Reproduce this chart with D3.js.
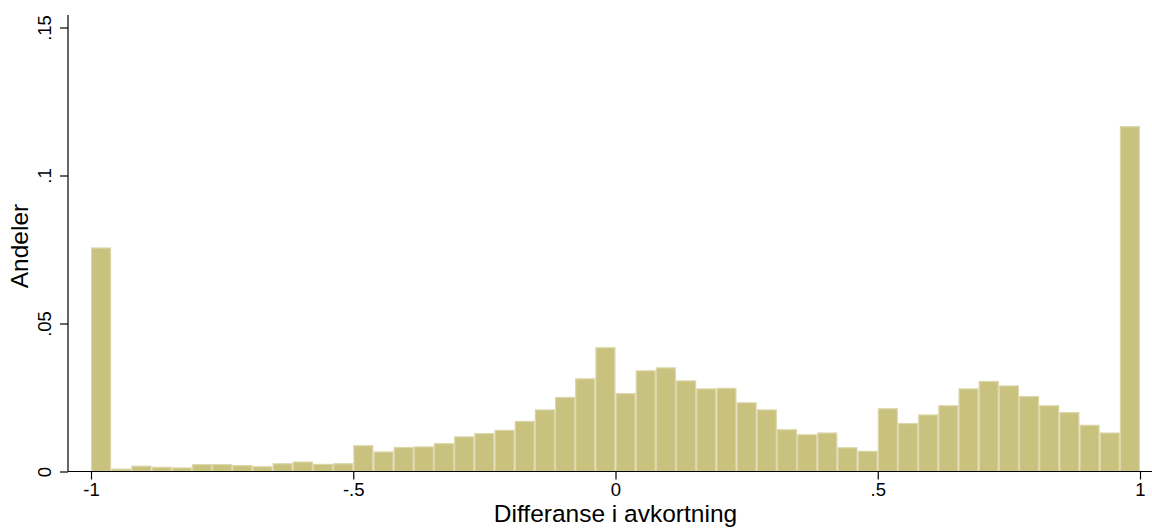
<!DOCTYPE html>
<html>
<head>
<meta charset="utf-8">
<script src="https://cdn.jsdelivr.net/npm/d3@7"></script>
<style>
  html, body { margin: 0; padding: 0; background: #fff; }
  svg { display: block; font-family: "Liberation Sans", Arial, Helvetica, sans-serif; }
</style>
</head>
<body>
<svg id="chart" width="1152" height="528"></svg>
<script>
// Histogram of differences, 52 equal-width bins on [-1, 1]
const binRange = [-1, 1];
const binShares = [
  0.0757, 0.0010, 0.0020, 0.0016, 0.0014, 0.0025, 0.0025, 0.0022, 0.0018, 0.0028,
  0.0034, 0.0026, 0.0028, 0.0089, 0.0068, 0.0083, 0.0085, 0.0096, 0.0119, 0.0130,
  0.0141, 0.0171, 0.0210, 0.0252, 0.0315, 0.0420, 0.0265, 0.0342, 0.0352, 0.0308,
  0.0281, 0.0283, 0.0234, 0.0210, 0.0143, 0.0126, 0.0132, 0.0082, 0.0070, 0.0214,
  0.0164, 0.0193, 0.0224, 0.0281, 0.0306, 0.0291, 0.0255, 0.0224, 0.0201, 0.0158,
  0.0132, 0.1167
];
const xTicks = [-1, -0.5, 0, 0.5, 1];
const xTickLabels = ["-1", "-.5", "0", ".5", "1"];
const yTicks = [0, 0.05, 0.1, 0.15];
const yTickLabels = ["0", ".05", ".1", ".15"];
const xTitle = "Differanse i avkortning";
const yTitle = "Andeler";

const svg = d3.select("#chart");

const x = d3.scaleLinear().domain(binRange).range([91, 1140]);
const y = d3.scaleLinear().domain([0, 0.15]).range([471.5, 27.5]);

const binWidth = (binRange[1] - binRange[0]) / binShares.length;
const bins = binShares.map((v, i) => ({
  x0: binRange[0] + i * binWidth,
  x1: binRange[0] + (i + 1) * binWidth,
  v
}));

// bars
svg.append("g")
  .selectAll("rect")
  .data(bins)
  .join("rect")
  .attr("x", d => x(d.x0) + 0.6)
  .attr("width", d => x(d.x1) - x(d.x0) - 1.2)
  .attr("y", d => y(d.v) + 0.6)
  .attr("height", d => Math.max(0, y(0) - y(d.v) - 0.6))
  .attr("fill", "#c9c27f")
  .attr("stroke", "#dbd6a8")
  .attr("stroke-width", 1.2);

// x axis
const xAxis = svg.append("g")
  .attr("transform", `translate(0,${y(0)})`)
  .call(d3.axisBottom(x)
    .tickValues(xTicks)
    .tickFormat((d, i) => xTickLabels[i])
    .tickSize(8)
    .tickPadding(3)
    .tickSizeOuter(0));
xAxis.select(".domain").remove();
xAxis.append("line")
  .attr("x1", 68).attr("x2", 1152)
  .attr("stroke", "#000").attr("stroke-width", 1.2);
xAxis.selectAll(".tick line").attr("stroke", "#000").attr("stroke-width", 1.2);
xAxis.selectAll(".tick text")
  .attr("fill", "#000")
  .style("font-size", "18.5px");

// y axis
const yAxis = svg.append("g")
  .attr("transform", "translate(68,0)")
  .call(d3.axisLeft(y)
    .tickValues(yTicks)
    .tickFormat((d, i) => yTickLabels[i])
    .tickSize(8)
    .tickSizeOuter(0));
yAxis.select(".domain").remove();
yAxis.append("line")
  .attr("y1", 15).attr("y2", y(0))
  .attr("stroke", "#000").attr("stroke-width", 1.2);
yAxis.selectAll(".tick line").attr("stroke", "#000").attr("stroke-width", 1.2);
yAxis.selectAll(".tick text")
  .attr("x", null).attr("dy", null)
  .attr("text-anchor", "middle")
  .attr("transform", "translate(-17,0) rotate(-90)")
  .attr("fill", "#000")
  .style("font-size", "18.5px");

// axis titles
svg.append("text")
  .attr("x", x(0))
  .attr("y", 522)
  .attr("text-anchor", "middle")
  .attr("fill", "#000")
  .style("font-size", "24.5px")
  .text(xTitle);

svg.append("text")
  .attr("transform", "translate(28,246) rotate(-90)")
  .attr("text-anchor", "middle")
  .attr("fill", "#000")
  .style("font-size", "24.5px")
  .text(yTitle);
</script>
</body>
</html>
